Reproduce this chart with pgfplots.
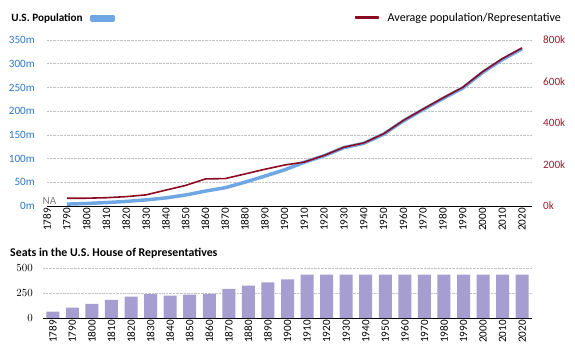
\documentclass[border=0pt]{standalone}
\usepackage{fontspec}
\setmainfont{Carlito}
\usepackage{pgfplots}
\usepackage{pgfplotstable}
\pgfplotsset{compat=1.18}
\definecolor{popblue}{HTML}{6FA6E4}
\definecolor{repred}{HTML}{8C0A22}
\definecolor{ticksblue}{HTML}{2E75C0}
\definecolor{ticksred}{HTML}{9E1B32}
\definecolor{barpurple}{HTML}{A69DD0}
\definecolor{gridgray}{HTML}{C4C4C4}
\pgfplotstableread{
idx year pop avg seats
0 1789 nan nan 65
1 1790 3.93 37.4 105
2 1800 5.31 37.6 141
3 1810 7.24 40.0 181
4 1820 9.64 45.2 213
5 1830 12.87 53.6 240
6 1840 17.07 76.5 223
7 1850 23.19 99.1 234
8 1860 31.44 130.5 241
9 1870 38.56 132.1 292
10 1880 50.19 154.4 325
11 1890 62.98 176.9 356
12 1900 76.21 197.4 386
13 1910 92.23 212.0 435
14 1920 106.02 243.7 435
15 1930 123.20 283.2 435
16 1940 132.16 303.8 435
17 1950 151.33 347.9 435
18 1960 179.32 412.2 435
19 1970 203.21 467.1 435
20 1980 226.55 520.8 435
21 1990 248.71 571.8 435
22 2000 281.42 646.9 435
23 2010 308.75 709.8 435
24 2020 331.45 761.9 435
}\data
\def\years{1789,1790,1800,1810,1820,1830,1840,1850,1860,1870,1880,1890,1900,1910,1920,1930,1940,1950,1960,1970,1980,1990,2000,2010,2020}
\newcommand\fsz{\fontsize{11.2}{13}\selectfont}
\pgfplotsset{
  common/.style={
    scale only axis,
    clip=false,
    tick style={draw=none},
    major tick length=0pt,
    tick label style={font=\fsz},
    x axis line style={black, line width=0.9pt, -},
    y axis line style={draw=none},
    grid style={gridgray, densely dotted, line width=0.5pt},
  },
  yrlabels/.style={xticklabel style={rotate=90, anchor=east, inner sep=2pt}},
}
\begin{document}
\begin{tikzpicture}
\path[use as bounding box] (0,0) rectangle (575bp,-353bp);
% top: population (left axis)
\begin{axis}[common, yrlabels,
  at={(47bp,-206bp)}, anchor=south west,
  width=485bp, height=166bp,
  xmin=0, xmax=24.5, ymin=0, ymax=350,
  axis x line*=bottom, axis y line*=left,
  xtick={0,...,24}, xticklabels/.expand once={\years},
  ytick={0,50,...,350},
  yticklabels={0m,50m,100m,150m,200m,250m,300m,350m},
  yticklabel style={text=ticksblue, inner sep=0pt, xshift=-12bp},
  ymajorgrids,
  legend plot pos=right,
  legend style={at={(rel axis cs:-0.078,1.128)}, anchor=west, draw=none, fill=none,
    inner sep=0pt, font=\bfseries\fsz,
    /tikz/every odd column/.append style={column sep=5bp}},
  legend image code/.code={\fill[popblue] (0bp,-1.6bp) rectangle (22bp,1.6bp);},
  unbounded coords=jump,
]
\addplot[popblue, line width=3.5pt, line join=round] table[x=idx, y=pop] {\data};
\addlegendentry{U.S. Population}
\node[text=gray, anchor=south, font=\fsz, inner sep=1pt] at (axis cs:0.12,0) {NA};
\end{axis}
% top: average per representative (right axis)
\begin{axis}[common,
  at={(47bp,-206bp)}, anchor=south west,
  width=485bp, height=166bp,
  xmin=0, xmax=24.5, ymin=0, ymax=800,
  axis x line=none, axis y line*=right,
  ytick={0,200,...,800},
  yticklabels={0k,200k,400k,600k,800k},
  yticklabel style={text=ticksred, inner sep=0pt, xshift=11bp},
  legend plot pos=left,
  legend style={at={(rel axis cs:1.064,1.135)}, anchor=east, draw=none, fill=none,
    inner sep=0pt, font=\fontsize{12.1}{14}\selectfont,
    /tikz/every odd column/.append style={column sep=7bp}},
  legend image code/.code={\fill[repred] (0bp,-0.9bp) rectangle (22bp,0.9bp);},
  unbounded coords=jump,
]
\addplot[repred, line width=1.6pt, line join=round] table[x=idx, y=avg] {\data};
\addlegendentry{Average population/Representative}
\end{axis}
% bottom: seats
\node[anchor=west, font=\bfseries\fontsize{11.9}{14}\selectfont, inner sep=0pt] at (10bp,-253bp) {Seats in the U.S. House of Representatives};
\begin{axis}[common, yrlabels,
  at={(43bp,-318bp)}, anchor=south west,
  width=489bp, height=50bp,
  xmin=-0.5, xmax=24.5, ymin=0, ymax=500,
  axis x line*=bottom, axis y line*=left,
  xtick={0,...,24}, xticklabels/.expand once={\years},
  ytick={0,250,500},
  yticklabel style={inner sep=0pt, xshift=-10bp},
  ymajorgrids,
  ybar, bar width=13bp,
]
\addplot[fill=barpurple, draw=none] table[x=idx, y=seats] {\data};
\end{axis}
\end{tikzpicture}
\end{document}
